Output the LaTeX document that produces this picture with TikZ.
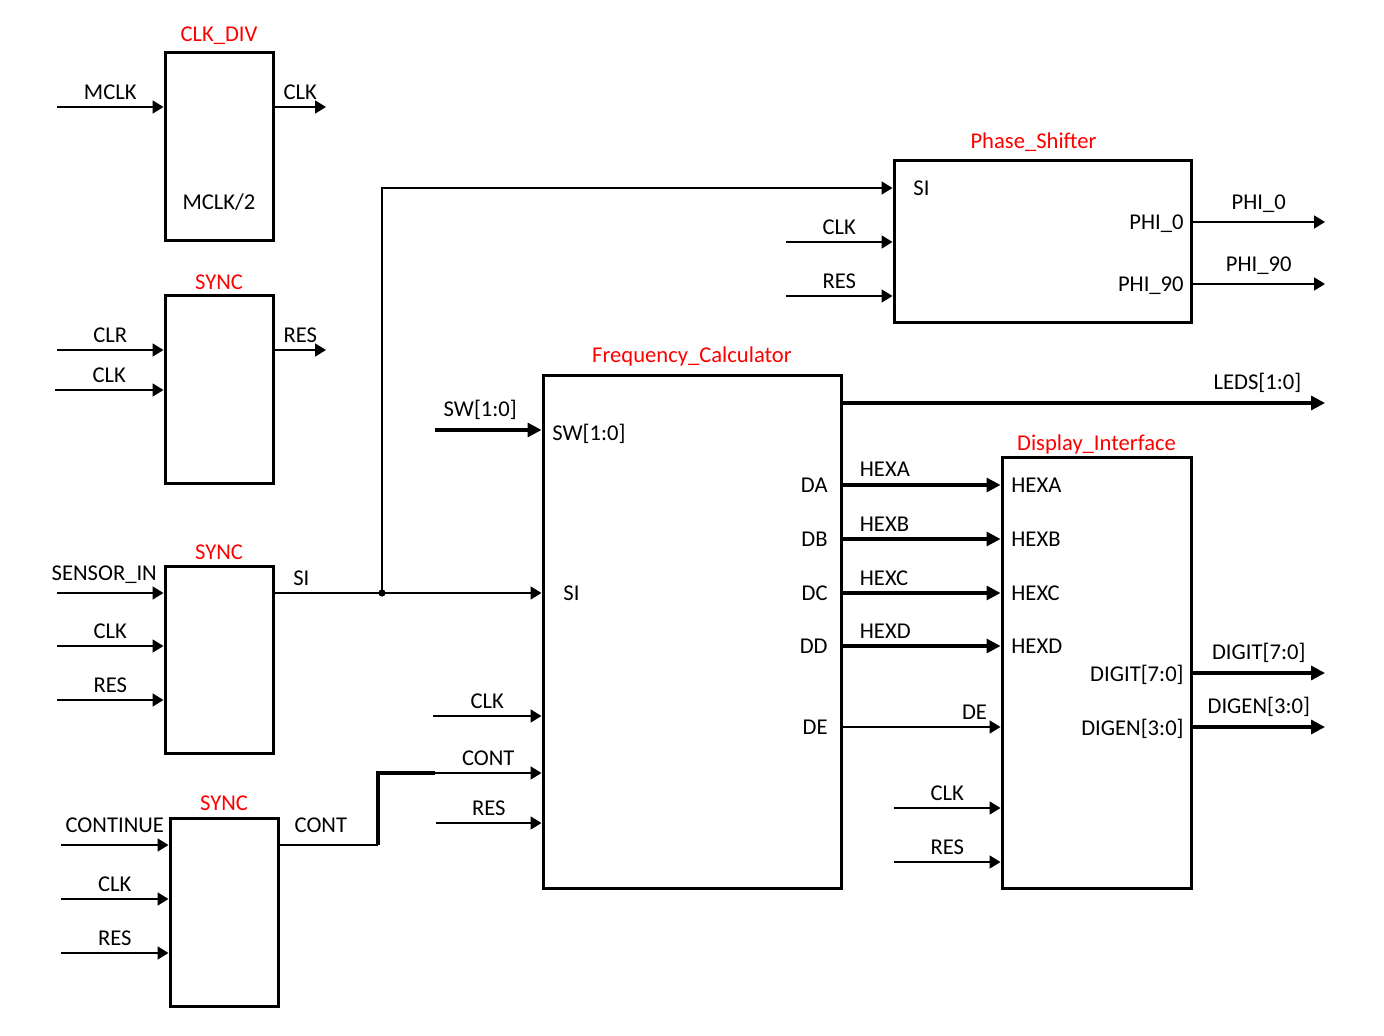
\documentclass[tikz,border=0pt]{standalone}
\usepackage{fontspec}
\setmainfont{Carlito}
\usetikzlibrary{arrows.meta,positioning}
\tikzset{
  blk/.style={
    draw,
    line width=1.5pt,
    inner sep=0pt
  },
  modname/.style={
    text=red,
    inner sep=0pt,
    text depth=0pt
  },
  sig/.style={
    line width=0.9pt,
    -{Triangle[length=5.5pt,width=6.5pt]}
  },
  bus/.style={
    line width=1.6pt,
    -{Triangle[length=7pt,width=7pt]}
  },
  port/.style={
    inner sep=0pt,
    text depth=0pt
  },
  lbl/.style={
    anchor=south,
    yshift=3.2pt,
    inner sep=0pt,
    text depth=0pt
  },
  lblhi/.style={
    anchor=south,
    yshift=5.8pt,
    inner sep=0pt,
    text depth=0pt
  },
}
\begin{document}
\begin{tikzpicture}[x=0.5pt,y=-0.5pt,font=\fontsize{11.3}{13}\selectfont]
\useasboundingbox (0,0) rectangle (1384,1036);
% modules
\node[blk, minimum width=54pt, minimum height=94pt] (div) at (219,147) {};
\node[blk, minimum width=54pt, minimum height=94pt] (syA) at (219,390) {};
\node[blk, minimum width=54pt, minimum height=93.5pt] (syB) at (219,659.5) {};
\node[blk, minimum width=54pt, minimum height=94pt] (syC) at (224,912) {};
\node[blk, minimum width=148.5pt, minimum height=81pt] (ph) at (1042.5,242) {};
\node[blk, minimum width=149pt, minimum height=256pt] (fc) at (692,632) {};
\node[blk, minimum width=94.5pt, minimum height=215pt] (di) at (1096.5,673) {};
\node[modname, above=5pt of div.north] {CLK\_DIV};
\node[modname, above=2.5pt of syA.north] {SYNC};
\node[modname, above=2.5pt of syB.north] {SYNC};
\node[modname, above=3pt of syC.north] {SYNC};
\node[modname, above=5.5pt of ph.north, xshift=-4.5pt] {Phase\_Shifter};
\node[modname, above=6pt of fc.north] {Frequency\_Calculator};
\node[modname, above=3pt of di.north] {Display\_Interface};
% ports inside the modules
\node[port] (divtxt) at (219,202) {MCLK/2};
\node[port, anchor=west] (phSI) at (913,188) {SI};
\node[port, anchor=east] (phP0) at (1184,222) {PHI\_0};
\node[port, anchor=east] (phP90) at (1184,284) {PHI\_90};
\node[port, anchor=west] (fcSW) at (552,432) {SW[1:0]};
\node[port, anchor=west] (fcSI) at (563,593) {SI};
\foreach \p/\y in {A/485, B/539, C/593, D/646, E/727}
  \node[port, anchor=east] (fcD\p) at (828,\y) {D\p};
\foreach \p/\y in {A/485, B/539, C/593, D/646}
  \node[port, anchor=west] (di\p) at (1011,\y) {HEX\p};
\node[port, anchor=east] (diDG) at (1184,673) {DIGIT[7:0]};
\node[port, anchor=east] (diDN) at (1184,727) {DIGEN[3:0]};
% CLK_DIV
\coordinate (mclk) at (57,107);
\coordinate (clko) at (326,107);
\draw[sig] (mclk) -- node[lbl]{MCLK} (mclk -| div.west);
\draw[sig] (clko -| div.east) -- node[lbl]{CLK} (clko);
% SYNC for CLR
\coordinate (clr) at (57,350);
\coordinate (clkA) at (55,390);
\coordinate (reso) at (326,350);
\draw[sig] (clr) -- node[lbl]{CLR} (clr -| syA.west);
\draw[sig] (clkA) -- node[lbl]{CLK} (clkA -| syA.west);
\draw[sig] (reso -| syA.east) -- node[lbl]{RES} (reso);
% SYNC for SENSOR_IN
\coordinate (sens) at (57,593);
\draw[sig] (sens) -- node[lblhi, xshift=-3pt]{SENSOR\_IN} (sens -| syB.west);
\foreach \y/\txt in {646/CLK, 700/RES}{
  \coordinate (b\y) at (57,\y);
  \draw[sig] (b\y) -- node[lbl]{\txt} (b\y -| syB.west);
}
% SYNC for CONTINUE
\foreach \y/\txt/\st in {845/CONTINUE/lblhi, 899/CLK/lbl, 953/RES/lbl}{
  \coordinate (c\y) at (61,\y);
  \draw[sig] (c\y) -- node[\st]{\txt} (c\y -| syC.west);
}
% SI
\coordinate (jsi) at (382,593);
\draw[sig, -] (syB.east |- jsi) -- node[lbl, pos=0.25]{SI} (jsi);
\draw[sig] (jsi) -- (fcSI -| fc.west);
\draw[sig] (jsi) |- (phSI -| ph.west);
\fill (jsi) circle (1.8pt);
% Phase_Shifter
\coordinate (phclk) at (786,242);
\coordinate (phres) at (786,296);
\coordinate (p0) at (1325,222);
\coordinate (p90) at (1325,284);
\draw[sig] (phclk) -- node[lbl]{CLK} (phclk -| ph.west);
\draw[sig] (phres) -- node[lbl]{RES} (phres -| ph.west);
\draw[sig] (phP0 -| ph.east) -- node[lblhi]{PHI\_0} (p0);
\draw[sig] (phP90 -| ph.east) -- node[lblhi]{PHI\_90} (p90);
% Frequency_Calculator
\coordinate (sw) at (435,430);
\coordinate (fcclk) at (433,716);
\coordinate (fcres) at (436,823);
\coordinate (cbend) at (378,845);
\coordinate (cstub) at (435,773);
\coordinate (leds) at (1325,403);
\draw[bus] (sw) -- node[lblhi, xshift=-4pt]{SW[1:0]} (sw -| fc.west);
\draw[sig] (fcclk) -- node[lbl]{CLK} (fcclk -| fc.west);
\draw[sig] (fcres) -- node[lbl]{RES} (fcres -| fc.west);
\draw[sig, -] (syC.east |- cbend) -- node[lblhi, pos=0.42]{CONT} (cbend);
\draw[line width=1.6pt] (cbend) |- (cstub);
\draw[sig] (cstub) -- node[lbl]{CONT} (cstub -| fc.west);
\draw[bus] (leds -| fc.east) -- node[lblhi, pos=0.86]{LEDS[1:0]} (leds);
\foreach \p in {A,B,C,D}
  \draw[bus] (fcD\p -| fc.east) -- node[lbl, pos=0.1, anchor=south west]{HEX\p} (di\p -| di.west);
\draw[sig] (fcDE -| fc.east) -- node[lbl, pos=0.92, anchor=south east]{DE} (fcDE -| di.west);
% Display_Interface
\coordinate (diclk) at (894,808);
\coordinate (dires) at (894,862);
\coordinate (dg) at (1325,673);
\coordinate (dn) at (1325,727);
\draw[sig] (diclk) -- node[lbl]{CLK} (diclk -| di.west);
\draw[sig] (dires) -- node[lbl]{RES} (dires -| di.west);
\draw[bus] (diDG -| di.east) -- node[lblhi]{DIGIT[7:0]} (dg);
\draw[bus] (diDN -| di.east) -- node[lblhi]{DIGEN[3:0]} (dn);
\end{tikzpicture}
\end{document}
